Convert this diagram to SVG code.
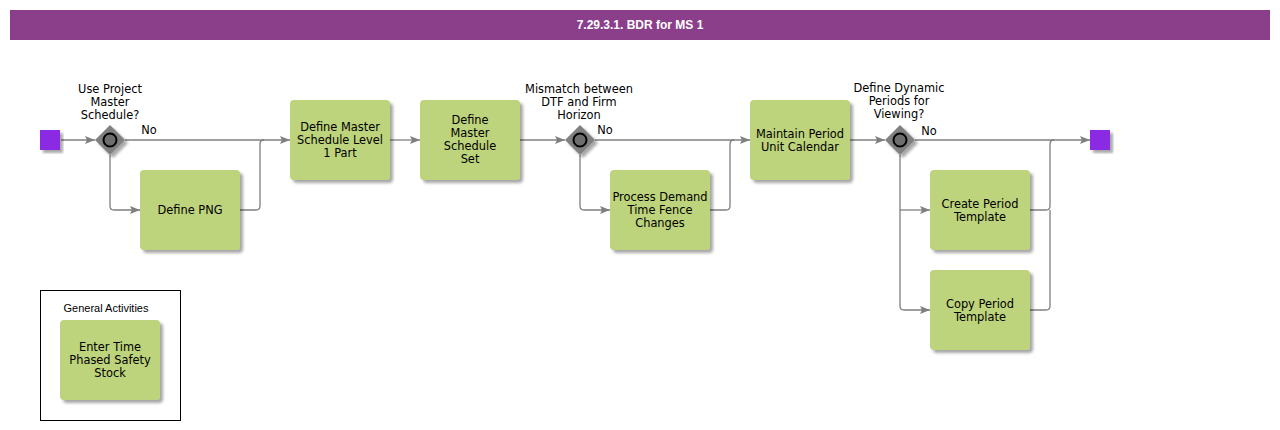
<svg xmlns="http://www.w3.org/2000/svg" width="1280" height="430" viewBox="0 0 1280 430">
<style>
.box{fill:#bdd37b;}
.t{font-family:"DejaVu Sans",Verdana,sans-serif;font-size:11.4px;fill:#000;text-anchor:middle;}
.c{fill:none;stroke:#7f7f7f;stroke-width:1.3;}
.gw{fill:#808080;}
.ev{fill:#8a2be2;}
</style>
<defs>
<marker id="ah" viewBox="0 0 10 10" refX="10" refY="5" markerWidth="10" markerHeight="10" markerUnits="userSpaceOnUse" orient="auto">
<path d="M0,1 L10,5 L0,9 L2,5 Z" fill="#7f7f7f"/>
</marker>
<filter id="ds" x="-10%" y="-10%" width="130%" height="130%">
<feGaussianBlur in="SourceAlpha" stdDeviation="1.5"/>
<feOffset dx="3" dy="3" result="o"/>
<feComponentTransfer><feFuncA type="linear" slope="0.35"/></feComponentTransfer>
<feMerge><feMergeNode/><feMergeNode in="SourceGraphic"/></feMerge>
</filter>
</defs>
<rect width="1280" height="430" fill="#ffffff"/>
<g id="title">
<rect x="10" y="10" width="1260" height="30" fill="#8b3f8b"/>
<text x="640" y="29" font-family="Liberation Sans,Arial,sans-serif" font-size="12" font-weight="bold" fill="#ffffff" text-anchor="middle">7.29.3.1. BDR for MS 1</text>
</g>
<g id="connectors">
<line class="c" x1="61" y1="140" x2="95" y2="140" marker-end="url(#ah)"/>
<line class="c" x1="125" y1="140" x2="290" y2="140" marker-end="url(#ah)"/>
<path class="c" d="M110,155 V206 Q110,210 114,210 H140" marker-end="url(#ah)"/>
<path class="c" d="M240,210 H256 Q260,210 260,206 V144 Q260,140 264,140"/>
<line class="c" x1="390" y1="140" x2="420" y2="140" marker-end="url(#ah)"/>
<line class="c" x1="520" y1="140" x2="565" y2="140" marker-end="url(#ah)"/>
<line class="c" x1="595" y1="140" x2="750" y2="140" marker-end="url(#ah)"/>
<path class="c" d="M580,155 V206 Q580,210 584,210 H610" marker-end="url(#ah)"/>
<path class="c" d="M710,210 H726 Q730,210 730,206 V144 Q730,140 734,140"/>
<line class="c" x1="850" y1="140" x2="885" y2="140" marker-end="url(#ah)"/>
<line class="c" x1="915" y1="140" x2="1090" y2="140" marker-end="url(#ah)"/>
<path class="c" d="M900,155 V306 Q900,310 904,310 H930" marker-end="url(#ah)"/>
<path class="c" d="M900,210 H930" marker-end="url(#ah)"/>
<path class="c" d="M1030,210 H1046 Q1050,210 1050,206 V144 Q1050,140 1054,140"/>
<path class="c" d="M1030,310 H1046 Q1050,310 1050,306 V210"/>
<text class="t" x="149" y="134">No</text>
<text class="t" x="605" y="134">No</text>
<text class="t" x="929" y="135">No</text>
</g>
<g id="start">
<rect class="ev" x="40" y="130" width="20" height="20" filter="url(#ds)"/>
</g>
<g id="gw1">
<path class="gw" d="M110,125 L125,140 L110,155 L95,140 Z" filter="url(#ds)"/>
<circle cx="110" cy="140" r="6.5" fill="#6e6e6e" stroke="#000" stroke-width="2"/>
<text class="t" x="110" y="93">Use Project</text>
<text class="t" x="110" y="106">Master</text>
<text class="t" x="110" y="119">Schedule?</text>
</g>
<g id="definePNG">
<rect class="box" x="140" y="170" width="100" height="80" rx="4" filter="url(#ds)"/>
<text class="t" x="190" y="214">Define PNG</text>
</g>
<g id="defineLevel1">
<rect class="box" x="290" y="100" width="100" height="80" rx="4" filter="url(#ds)"/>
<text class="t" x="340" y="131">Define Master</text>
<text class="t" x="340" y="144">Schedule Level</text>
<text class="t" x="340" y="157">1 Part</text>
</g>
<g id="defineSet">
<rect class="box" x="420" y="100" width="100" height="80" rx="4" filter="url(#ds)"/>
<text class="t" x="470" y="124">Define</text>
<text class="t" x="470" y="137">Master</text>
<text class="t" x="470" y="150">Schedule</text>
<text class="t" x="470" y="163">Set</text>
</g>
<g id="gw2">
<path class="gw" d="M580,125 L595,140 L580,155 L565,140 Z" filter="url(#ds)"/>
<circle cx="580" cy="140" r="6.5" fill="#6e6e6e" stroke="#000" stroke-width="2"/>
<text class="t" x="579" y="93">Mismatch between</text>
<text class="t" x="579" y="106">DTF and Firm</text>
<text class="t" x="579" y="119">Horizon</text>
</g>
<g id="processDemand">
<rect class="box" x="610" y="170" width="100" height="80" rx="4" filter="url(#ds)"/>
<text class="t" x="660" y="201">Process Demand</text>
<text class="t" x="660" y="214">Time Fence</text>
<text class="t" x="660" y="227">Changes</text>
</g>
<g id="maintainCalendar">
<rect class="box" x="750" y="100" width="100" height="80" rx="4" filter="url(#ds)"/>
<text class="t" x="800" y="138">Maintain Period</text>
<text class="t" x="800" y="151">Unit Calendar</text>
</g>
<g id="gw3">
<path class="gw" d="M900,125 L915,140 L900,155 L885,140 Z" filter="url(#ds)"/>
<circle cx="900" cy="140" r="6.5" fill="#6e6e6e" stroke="#000" stroke-width="2"/>
<text class="t" x="899" y="92">Define Dynamic</text>
<text class="t" x="899" y="105">Periods for</text>
<text class="t" x="899" y="118">Viewing?</text>
</g>
<g id="createTemplate">
<rect class="box" x="930" y="170" width="100" height="80" rx="4" filter="url(#ds)"/>
<text class="t" x="980" y="208">Create Period</text>
<text class="t" x="980" y="221">Template</text>
</g>
<g id="copyTemplate">
<rect class="box" x="930" y="270" width="100" height="80" rx="4" filter="url(#ds)"/>
<text class="t" x="980" y="308">Copy Period</text>
<text class="t" x="980" y="321">Template</text>
</g>
<g id="end">
<rect class="ev" x="1090" y="130" width="20" height="20" filter="url(#ds)"/>
</g>
<g id="generalActivities">
<rect x="40.5" y="290.5" width="140" height="130" fill="none" stroke="#000" stroke-width="1"/>
<text x="106" y="312" font-family="Liberation Sans,Arial,sans-serif" font-size="11" text-anchor="middle">General Activities</text>
</g>
<g id="enterSafetyStock">
<rect class="box" x="60" y="320" width="100" height="80" rx="4" filter="url(#ds)"/>
<text class="t" x="110" y="351">Enter Time</text>
<text class="t" x="110" y="364">Phased Safety</text>
<text class="t" x="110" y="377">Stock</text>
</g>
</svg>
